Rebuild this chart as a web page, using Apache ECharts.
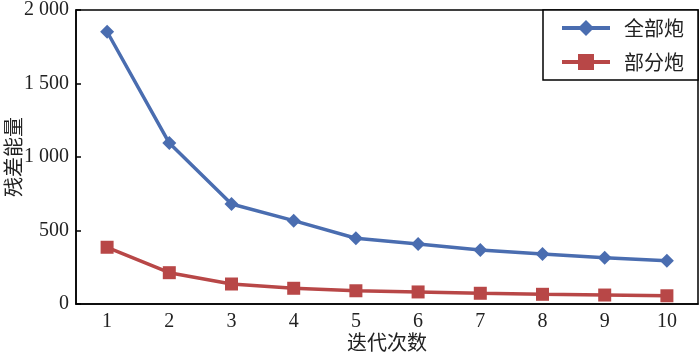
<!DOCTYPE html>
<html>
<head>
<meta charset="utf-8">
<script src="https://cdn.jsdelivr.net/npm/echarts@6/dist/echarts.min.js"></script>
<style>
  html, body { margin: 0; padding: 0; background: #fff; }
  #chart { width: 700px; height: 354px; }
</style>
</head>
<body>
<div id="chart"></div>
<script>
// 迭代次数
var categories = ['1', '2', '3', '4', '5', '6', '7', '8', '9', '10'];
// 残差能量
var allGuns = [1852, 1095, 680, 567, 447, 408, 367, 340, 315, 295];
var partGuns = [386, 213, 136, 107, 90, 82, 73, 66, 61, 56];
var seriesNames = ['全部炮', '部分炮'];

var numFont = 'Liberation Serif';
var cjkFont = 'Noto Sans CJK SC';

var myChart = echarts.init(document.getElementById('chart'));
myChart.setOption({
  animation: false,
  grid: {
    left: 76, top: 10, right: 2, bottom: 50,
    outerBoundsMode: 'none',
    containLabel: false,
    show: true,
    borderColor: '#000',
    borderWidth: 1.5
  },
  legend: {
    orient: 'vertical',
    right: 2,
    top: 10,
    padding: [8, 14, 8, 17],
    itemWidth: 48,
    itemHeight: 20,
    itemGap: 14,
    borderColor: '#000',
    borderWidth: 1.5,
    backgroundColor: '#fff',
    lineStyle: { width: 4 },
    textStyle: { fontFamily: cjkFont, fontSize: 20, color: '#222', padding: [0, 0, 0, 9] },
    data: seriesNames
  },
  xAxis: {
    type: 'category',
    boundaryGap: true,
    data: categories,
    name: '迭代次数',
    nameLocation: 'middle',
    nameGap: 28,
    nameMoveOverlap: false,
    nameTextStyle: { fontFamily: cjkFont, fontSize: 20, color: '#222' },
    axisLine: { lineStyle: { color: '#000', width: 1.5 } },
    axisTick: { inside: true, length: 6, lineStyle: { color: '#000', width: 1.5 } },
    axisLabel: { fontFamily: numFont, fontSize: 20, color: '#222', margin: 8 },
    splitLine: { show: false }
  },
  yAxis: {
    type: 'value',
    min: 0,
    max: 2000,
    interval: 500,
    name: '残差能量',
    nameLocation: 'middle',
    nameGap: 53,
    nameMoveOverlap: false,
    nameTextStyle: { fontFamily: cjkFont, fontSize: 20, color: '#222' },
    axisLine: { show: true, lineStyle: { color: '#000', width: 1.5 } },
    axisTick: { show: true, inside: true, length: 5, lineStyle: { color: '#000', width: 1.5 } },
    axisLabel: {
      fontFamily: numFont, fontSize: 20, color: '#222', margin: 7,
      formatter: function (v) {
        return String(v).replace(/\B(?=(\d{3})+(?!\d))/g, ' ');
      }
    },
    splitLine: { show: false }
  },
  series: [
    {
      name: seriesNames[0],
      type: 'line',
      data: allGuns,
      symbol: 'diamond',
      symbolSize: 14,
      lineStyle: { color: '#4a6db0', width: 3.5 },
      itemStyle: { color: '#4a6db0' }
    },
    {
      name: seriesNames[1],
      type: 'line',
      data: partGuns,
      symbol: 'rect',
      symbolSize: 13,
      lineStyle: { color: '#b84747', width: 3.5 },
      itemStyle: { color: '#b84747' }
    }
  ]
});
window.addEventListener('resize', function () {
  myChart.resize();
});
</script>
</body>
</html>
